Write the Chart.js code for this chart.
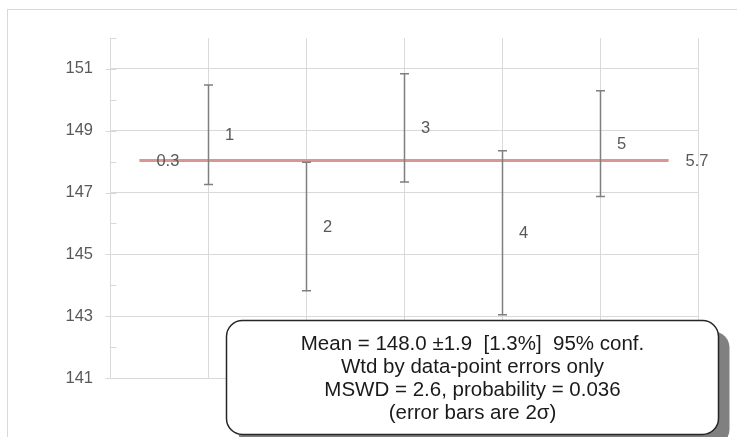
<!DOCTYPE html>
<html><head><meta charset="utf-8">
<script src="https://cdn.jsdelivr.net/npm/chart.js@4"></script>
<style>html,body{margin:0;padding:0;background:#fff;}#wrap{width:737px;height:437px;position:relative;overflow:hidden}</style>
</head><body><div id="wrap"><canvas id="c" width="737" height="437"></canvas></div>
<script>
const pointLabels = ['1','2','3','4','5'];
const pointX = [1, 2, 3, 4, 5];
const pointY = [148.87, 145.90, 149.09, 145.70, 148.58];
const pointErr = [1.61, 2.08, 1.75, 2.65, 1.71];
const meanLineX = [0.3, 5.7];
const meanLineLabels = ['0.3', '5.7'];
const meanValue = 148.04;
const yMin = 141, yMax = 152;
const xMin = 0, xMax = 6;
const yLabelValues = [141, 143, 145, 147, 149, 151];
const boxLines = [
  'Mean = 148.0 \u00b11.9  [1.3%]  95% conf.',
  'Wtd by data-point errors only',
  'MSWD = 2.6, probability = 0.036',
  '(error bars are 2\u03c3)'
];

const LABEL_FONT = '16.5px "Liberation Sans", Arial, sans-serif';
const LABEL_COLOR = '#595959';
const GRID = '#d9d9d9';

const framePlugin = {
  id: 'frame',
  beforeDraw(chart) {
    const ctx = chart.ctx;
    ctx.save();
    ctx.fillStyle = '#fff';
    ctx.fillRect(0, 0, chart.width, chart.height);
    ctx.strokeStyle = GRID;
    ctx.lineWidth = 1;
    ctx.strokeRect(7.5, 9.5, chart.width + 20, chart.height + 20);
    ctx.restore();
  }
};

const tickMarks = {
  id: 'tickMarks',
  beforeDatasetsDraw(chart) {
    const ctx = chart.ctx, ys = chart.scales.y, ax = Math.round(chart.chartArea.left) + 0.5;
    ctx.save();
    ctx.strokeStyle = GRID;
    ctx.lineWidth = 1;
    ys.ticks.forEach(t => {
      const py = Math.round(ys.getPixelForValue(t.value)) + 0.5;
      const major = yLabelValues.includes(t.value);
      ctx.beginPath();
      ctx.moveTo(major ? ax - 5 : ax, py);
      ctx.lineTo(ax + 6, py);
      ctx.stroke();
    });
    ctx.restore();
  }
};

const errorBars = {
  id: 'errorBars',
  afterDatasetsDraw(chart) {
    const ctx = chart.ctx, xs = chart.scales.x, ys = chart.scales.y;
    ctx.save();
    ctx.strokeStyle = '#7f7f7f';
    ctx.lineWidth = 1.5;
    pointX.forEach((xv, i) => {
      const px = Math.round(xs.getPixelForValue(xv)) + 0.5;
      const top = ys.getPixelForValue(pointY[i] + pointErr[i]);
      const bot = ys.getPixelForValue(pointY[i] - pointErr[i]);
      ctx.beginPath();
      ctx.moveTo(px, top); ctx.lineTo(px, bot);
      ctx.moveTo(px - 4.5, top); ctx.lineTo(px + 4.5, top);
      ctx.moveTo(px - 4.5, bot); ctx.lineTo(px + 4.5, bot);
      ctx.stroke();
    });
    ctx.font = LABEL_FONT;
    ctx.fillStyle = LABEL_COLOR;
    ctx.textAlign = 'left';
    ctx.textBaseline = 'middle';
    pointX.forEach((xv, i) => {
      ctx.fillText(pointLabels[i], xs.getPixelForValue(xv) + 17, ys.getPixelForValue(pointY[i]) + 1);
    });
    meanLineX.forEach((xv, i) => {
      ctx.fillText(meanLineLabels[i], xs.getPixelForValue(xv) + 17, ys.getPixelForValue(meanValue) + 1);
    });
    ctx.restore();
  },
  afterDraw(chart) {
    const ctx = chart.ctx;
    const bx = 226.5, by = 320.5, bw = 492, bh = 114, r = 16;
    const rr = (x, y, w, h) => {
      ctx.beginPath();
      ctx.moveTo(x + r, y);
      ctx.lineTo(x + w - r, y);
      ctx.arcTo(x + w, y, x + w, y + r, r);
      ctx.lineTo(x + w, y + h - r);
      ctx.arcTo(x + w, y + h, x + w - r, y + h, r);
      ctx.lineTo(x + r, y + h);
      ctx.arcTo(x, y + h, x, y + h - r, r);
      ctx.lineTo(x, y + r);
      ctx.arcTo(x, y, x + r, y, r);
      ctx.closePath();
    };
    ctx.save();
    ctx.fillStyle = '#808080';
    rr(bx + 11, by + 11, bw, bh);
    ctx.fill();
    ctx.fillStyle = '#fff';
    ctx.strokeStyle = '#262626';
    ctx.lineWidth = 1.5;
    rr(bx, by, bw, bh);
    ctx.fill();
    ctx.stroke();
    ctx.fillStyle = '#1a1a1a';
    ctx.font = '20.5px "Liberation Sans", Arial, sans-serif';
    ctx.textAlign = 'center';
    ctx.textBaseline = 'middle';
    boxLines.forEach((t, i) => ctx.fillText(t, bx + bw / 2, 344 + i * 23));
    ctx.restore();
  }
};

new Chart(document.getElementById('c'), {
  type: 'scatter',
  data: {
    datasets: [
      {
        type: 'line',
        data: meanLineX.map(x => ({ x: x, y: meanValue })),
        borderColor: 'rgb(217,150,148)',
        borderWidth: 3,
        pointRadius: 0,
        fill: false
      },
      {
        data: pointX.map((x, i) => ({ x: x, y: pointY[i] })),
        pointRadius: 0,
        showLine: false
      }
    ]
  },
  options: {
    responsive: false,
    animation: false,
    events: [],
    layout: { padding: { left: 0, top: 38, right: 39, bottom: 59 } },
    plugins: { legend: { display: false }, tooltip: { enabled: false } },
    scales: {
      x: {
        type: 'linear', min: xMin, max: xMax,
        ticks: { display: false, stepSize: 1 },
        grid: { color: GRID, drawTicks: false, lineWidth: 1 },
        border: { display: true, color: GRID },
        afterFit(s) { s.height = 0; }
      },
      y: {
        type: 'linear', min: yMin, max: yMax,
        ticks: {
          stepSize: 1, padding: 17, color: LABEL_COLOR, autoSkip: false,
          font: { family: '"Liberation Sans", Arial, sans-serif', size: 16.5 },
          callback: v => yLabelValues.includes(v) ? String(v) : ''
        },
        grid: {
          drawTicks: false,
          color: c => (c.tick && yLabelValues.includes(c.tick.value)) ? GRID : 'rgba(0,0,0,0)'
        },
        border: { color: GRID },
        afterFit(s) { s.width = 110; }
      }
    }
  },
  plugins: [framePlugin, tickMarks, errorBars]
});
</script>
</body></html>
